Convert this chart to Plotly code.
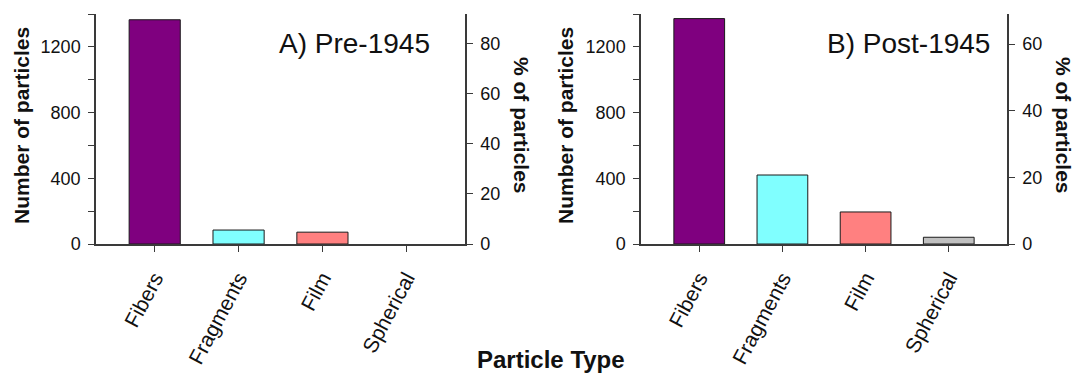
import plotly.graph_objects as go

categories = ["Fibers", "Fragments", "Film", "Spherical"]
pre_counts = [1365, 85, 72, 0]
post_counts = [1372, 420, 195, 41]
bar_colors = ["#7F007F", "#80FFFF", "#FF8080", "#C0C0C0"]
count_ticks = [0, 400, 800, 1200]
count_max = 1400

FONT = "Liberation Sans, Arial, sans-serif"
AX = "#3a3a3a"
TXT = "#111"

pre_pct = [v / sum(pre_counts) * 100 for v in pre_counts]
post_pct = [v / sum(post_counts) * 100 for v in post_counts]


def outline_widths(vals):
    return [1 if v > 0 else 0 for v in vals]


fig = go.Figure()

fig.add_trace(go.Bar(x=categories, y=pre_counts,
                     marker=dict(color=bar_colors, line=dict(color="#1a1a1a", width=outline_widths(pre_counts))),
                     width=0.61, xaxis="x", yaxis="y", showlegend=False))
fig.add_trace(go.Bar(x=categories, y=pre_pct, marker=dict(color="rgba(0,0,0,0)", line=dict(width=0)),
                     width=0.61, xaxis="x", yaxis="y2", showlegend=False, hoverinfo="skip"))
fig.add_trace(go.Bar(x=categories, y=post_counts,
                     marker=dict(color=bar_colors, line=dict(color="#1a1a1a", width=outline_widths(post_counts))),
                     width=0.61, xaxis="x2", yaxis="y3", showlegend=False))
fig.add_trace(go.Bar(x=categories, y=post_pct, marker=dict(color="rgba(0,0,0,0)", line=dict(width=0)),
                     width=0.61, xaxis="x2", yaxis="y4", showlegend=False, hoverinfo="skip"))

ydom = [1 - 244 / 375, 1 - 14 / 375]
xd1 = [96 / 1077, 465 / 1077]
xd2 = [641 / 1077, 1007 / 1077]

xcommon = dict(range=[-0.7, 3.7], showline=True, linecolor=AX, linewidth=1.5, ticks="outside", ticklen=6,
               tickcolor=AX, tickangle=-62, tickfont=dict(family=FONT, size=21, color=TXT), showgrid=False,
               zeroline=False, ticklabelstandoff=6, automargin=False)
ycount = dict(domain=ydom, range=[0, count_max], tickvals=count_ticks, showline=True, linecolor=AX, linewidth=1.5,
              ticks="outside", ticklen=6, tickcolor=AX, tickfont=dict(family=FONT, size=18, color=TXT),
              minor=dict(dtick=200, ticks="outside", ticklen=6, tickcolor=AX), showgrid=False, zeroline=False,
              ticklabelstandoff=4, automargin=False)
ypct = dict(domain=ydom, side="right", dtick=20, showline=True, linecolor=AX, linewidth=1.5, ticks="outside",
            ticklen=6, tickcolor=AX, tickfont=dict(family=FONT, size=18, color=TXT), showgrid=False,
            zeroline=False, ticklabelstandoff=4, automargin=False)

fig.update_layout(
    width=1077, height=375, margin=dict(l=0, r=0, t=0, b=0, autoexpand=False),
    paper_bgcolor="white", plot_bgcolor="white",
    xaxis=dict(domain=xd1, anchor="y", **xcommon),
    xaxis2=dict(domain=xd2, anchor="y3", **xcommon),
    yaxis=dict(anchor="x", **ycount),
    yaxis3=dict(anchor="x2", **ycount),
    yaxis2=dict(anchor="x", overlaying="y", range=[0, count_max / sum(pre_counts) * 100], **ypct),
    yaxis4=dict(anchor="x2", overlaying="y3", range=[0, count_max / sum(post_counts) * 100], **ypct),
    barmode="overlay",
)


def ann(text, x, y, size, bold=False, angle=0):
    fig.add_annotation(text=f"<b>{text}</b>" if bold else text, x=x / 1077, y=1 - y / 375, xref="paper", yref="paper",
                       showarrow=False, textangle=angle, font=dict(family=FONT, size=size, color=TXT),
                       xanchor="center", yanchor="middle")


ann("Number of particles", 21, 126, 21, True, -90)
ann("Number of particles", 565, 126, 21, True, -90)
ann("% of particles", 521, 125, 21, True, 90)
ann("% of particles", 1063, 125, 21, True, 90)
ann("A) Pre-1945", 354, 43, 28)
ann("B) Post-1945", 908, 43, 28)
ann("Particle Type", 551, 359, 24, True)

page_fix = (
    "var h=document.documentElement, b=document.body;"
    "h.style.margin='0'; h.style.padding='0'; h.style.overflow='hidden';"
    "b.style.margin='0'; b.style.padding='0'; b.style.overflow='hidden';"
)

fig.write_html("out.html", post_script=page_fix, config={"displayModeBar": False})
